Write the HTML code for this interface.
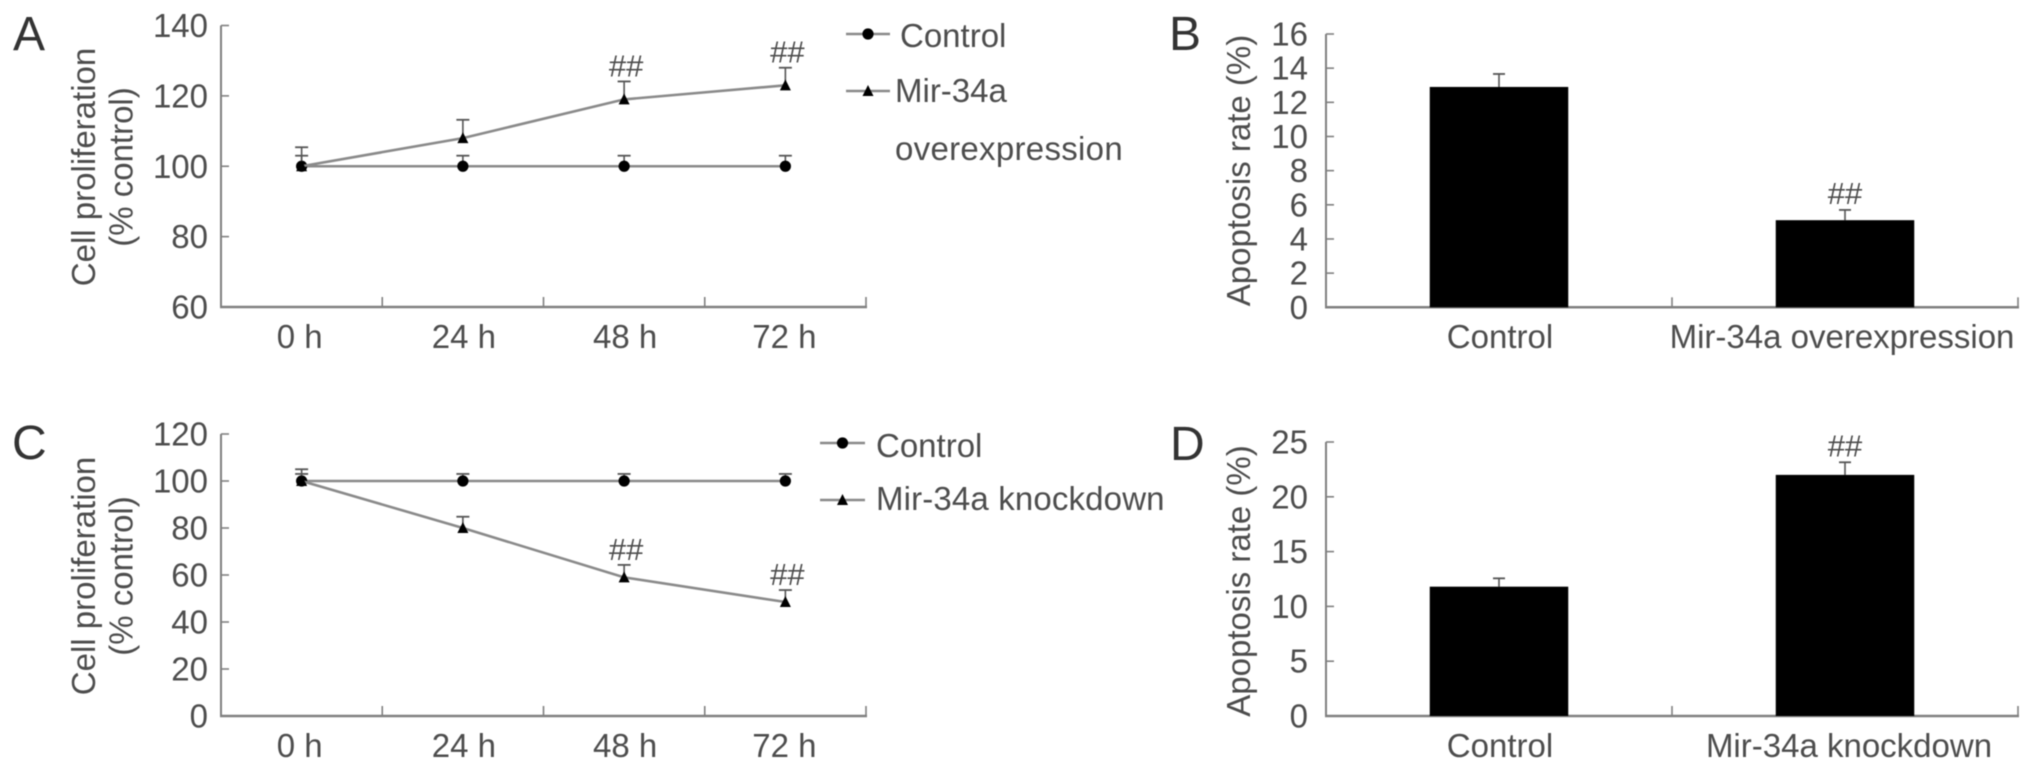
<!DOCTYPE html>
<html lang="en">
<head>
<meta charset="utf-8">
<title>Cell proliferation and apoptosis rate charts</title>
<style>
  html, body { margin: 0; padding: 0; background: #fff; }
  body { width: 2032px; height: 770px; overflow: hidden; }
  svg { display: block; filter: blur(0.55px); }
  text { font-family: "Liberation Sans", sans-serif; fill: #4d4d4d; font-size: 33px; }
  .panel-letter { font-size: 48px; fill: #333; }
</style>
</head>
<body>
<svg id="figure" xmlns="http://www.w3.org/2000/svg" width="2032" height="770" viewBox="0 0 2032 770">
  <rect width="2032" height="770" fill="#fff"/>

  <g id="panel-a">
    <text class="panel-letter" x="13" y="50">A</text>
    <text transform="rotate(-90 95 167)" x="95" y="167" text-anchor="middle">Cell proliferation</text>
    <text transform="rotate(-90 132.5 167)" x="132.5" y="167" text-anchor="middle">(% control)</text>
    <text x="900" y="47">Control</text>
    <text x="895" y="102">Mir-34a</text>
    <text x="895" y="160" letter-spacing="0.3">overexpression</text>
  </g>

  <g id="panel-b">
    <text class="panel-letter" x="1169" y="50">B</text>
    <text transform="rotate(-90 1250 170.5)" x="1250" y="170.5" text-anchor="middle">Apoptosis rate (%)</text>
  </g>

  <g id="panel-c">
    <text class="panel-letter" x="12" y="459">C</text>
    <text transform="rotate(-90 95 576)" x="95" y="576" text-anchor="middle">Cell proliferation</text>
    <text transform="rotate(-90 132.5 576)" x="132.5" y="576" text-anchor="middle">(% control)</text>
    <text x="876" y="457">Control</text>
    <text x="876" y="510" letter-spacing="0.15">Mir-34a knockdown</text>
  </g>

  <g id="panel-d">
    <text class="panel-letter" x="1170" y="460">D</text>
    <text transform="rotate(-90 1250 581)" x="1250" y="581" text-anchor="middle">Apoptosis rate (%)</text>
  </g>
</svg>

<script>
// ---- Data ----
const timeLabels = ['0 h', '24 h', '48 h', '72 h'];

const panelATicks = [60, 80, 100, 120, 140];
const panelAControl = [100, 100, 100, 100];
const panelAControlErr = [3, 3, 3, 3];
const panelAMir = [100, 108, 119, 123];
const panelAMirErr = [5.4, 5.2, 5.1, 5];
const panelASignificance = ['', '', '##', '##'];

const panelCTicks = [0, 20, 40, 60, 80, 100, 120];
const panelCControl = [100, 100, 100, 100];
const panelCControlErr = [3, 3, 3, 3];
const panelCMir = [100, 80, 59, 48.5];
const panelCMirErr = [5, 4.8, 5.3, 5.1];
const panelCSignificance = ['', '', '##', '##'];

const panelBTicks = [0, 2, 4, 6, 8, 10, 12, 14, 16];
const panelBCategories = ['Control', 'Mir-34a overexpression'];
const panelBValues = [12.9, 5.1];
const panelBErr = [0.76, 0.6];
const panelBSignificance = ['', '##'];

const panelDTicks = [0, 5, 10, 15, 20, 25];
const panelDCategories = ['Control', 'Mir-34a knockdown'];
const panelDValues = [11.8, 22];
const panelDErr = [0.76, 1.15];
const panelDSignificance = ['', '##'];

// ---- Helpers ----
const SVG_NS = 'http://www.w3.org/2000/svg';
const AXIS_COLOR = '#808080';
const LINE_COLOR = '#8a8a8a';
const ERR_COLOR = '#555';

function linearScale(domainMin, domainMax, pixelBottom, pixelTop) {
  return function (v) {
    return pixelBottom - (v - domainMin) / (domainMax - domainMin) * (pixelBottom - pixelTop);
  };
}
function bandScale(count, left, right) {
  const step = (right - left) / count;
  return function (i) { return left + (i + 0.5) * step; };
}
function make(tag, parent) {
  const el = document.createElementNS(SVG_NS, tag);
  parent.appendChild(el);
  return el;
}
function setAll(el, attrs) {
  Object.keys(attrs).forEach(function (k) { el.setAttribute(k, attrs[k]); });
  return el;
}

function drawAxes(root, prefix, ticks, yScale, left, right, bottom, xCount, labelRight) {
  const yAxis = make('line', root);
  setAll(yAxis, { x1: left, x2: left, y1: yScale(ticks[ticks.length - 1]), y2: bottom, stroke: AXIS_COLOR, 'stroke-width': 2 });
  
  

  const xAxis = make('line', root);
  setAll(xAxis, { x1: left - 1, x2: right + 1, y1: bottom, y2: bottom, stroke: AXIS_COLOR, 'stroke-width': 2.5 });
  
  

  ticks.forEach(function (t) {
    const y = yScale(t);
    const mark = make('line', root);
    setAll(mark, { x1: left, x2: left + 8, y1: y, y2: y, stroke: AXIS_COLOR, 'stroke-width': 1.6 });
    
    

    const label = make('text', root);
    setAll(label, { x: labelRight, y: y + 11.5, 'text-anchor': 'end' });
    
    
    label.textContent = String(t);
  });

  const step = (right - left) / xCount;
  for (let k = 1; k <= xCount; k++) {
    const x = left + k * step;
    const mark = make('line', root);
    setAll(mark, { x1: x, x2: x, y1: bottom - 10, y2: bottom, stroke: AXIS_COLOR, 'stroke-width': 1.6 });
    
    
  }
}

function drawErrorBar(root, name, x, yFrom, yTo, capWidth) {
  const stem = make('line', root);
  setAll(stem, { x1: x, x2: x, y1: yFrom, y2: yTo, stroke: ERR_COLOR, 'stroke-width': 1.6 });
  
  

  const cap = make('line', root);
  setAll(cap, { x1: x - capWidth / 2, x2: x + capWidth / 2, y1: yTo, y2: yTo, stroke: ERR_COLOR, 'stroke-width': 1.8 });
  
  
}

function drawCircle(root, name, x, y) {
  const c = make('circle', root);
  setAll(c, { cx: x, cy: y, r: 5.6, fill: '#000' });
  
  
}
function drawTriangle(root, name, x, y) {
  const p = make('polygon', root);
  p.setAttribute('points', (x - 5.5) + ',' + (y + 5) + ' ' + (x + 5.5) + ',' + (y + 5) + ' ' + x + ',' + (y - 6));
  p.setAttribute('fill', '#000');
  
  
}

function drawSeries(root, name, values, errs, xScale, yScale, marker) {
  const path = make('polyline', root);
  const pts = values.map(function (v, i) { return xScale(i) + ',' + yScale(v); }).join(' ');
  setAll(path, { points: pts, fill: 'none', stroke: LINE_COLOR, 'stroke-width': 2.6 });
  
  

  values.forEach(function (v, i) {
    drawErrorBar(root, name + '-error-bar', xScale(i), yScale(v), yScale(v + errs[i]), 13);
  });
  values.forEach(function (v, i) {
    marker(root, name + '-point', xScale(i), yScale(v));
  });
}

function drawSignificance(root, name, x, y) {
  const t = make('text', root);
  setAll(t, { x: x, y: y, 'text-anchor': 'middle' });
  t.style.fontSize = '31px';
  
  
  t.textContent = '##';
}

function drawCategoryLabel(root, name, x, y, text) {
  const t = make('text', root);
  setAll(t, { x: x, y: y, 'text-anchor': 'middle' });
  
  
  t.textContent = text;
}

function drawLegendKey(root, prefix, x1, x2, y, marker) {
  const l = make('line', root);
  setAll(l, { x1: x1, x2: x2, y1: y, y2: y, stroke: LINE_COLOR, 'stroke-width': 2.4 });
  
  
  marker(root, prefix + '-key-marker', (x1 + x2) / 2, y);
}

function drawLinePanel(id, ticks, top, bottom, control, controlErr, mir, mirErr, significance, labelBaseline) {
  const root = document.getElementById(id);
  const left = 221, right = 866;
  const yScale = linearScale(ticks[0], ticks[ticks.length - 1], bottom, top);
  const xScale = bandScale(timeLabels.length, left, right);
  drawAxes(root, id, ticks, yScale, left, right, bottom, timeLabels.length, 208);
  drawSeries(root, id + '-control', control, controlErr, xScale, yScale, drawCircle);
  drawSeries(root, id + '-mir', mir, mirErr, xScale, yScale, drawTriangle);
  timeLabels.forEach(function (lab, i) {
    drawCategoryLabel(root, id + '-x-tick-label', xScale(i) + (i === 0 ? -2 : i === 3 ? -1 : 1), labelBaseline, lab);
  });
  significance.forEach(function (s, i) {
    if (s) {
      drawSignificance(root, id + '-significance', xScale(i) + 2, yScale(mir[i] + mirErr[i]) - 5);
    }
  });
}

function drawBarPanel(id, ticks, top, bottom, categories, values, errs, significance, labelBaseline, labelShift) {
  const root = document.getElementById(id);
  const left = 1326, right = 2018;
  const yScale = linearScale(ticks[0], ticks[ticks.length - 1], bottom, top);
  const xScale = bandScale(categories.length, left, right);
  const barWidth = 138.5;
  drawAxes(root, id, ticks, yScale, left, right, bottom, categories.length, 1308);
  values.forEach(function (v, i) {
    drawErrorBar(root, id + '-error-bar', xScale(i), yScale(v), yScale(v + errs[i]), 12);
    const bar = make('rect', root);
    setAll(bar, { x: xScale(i) - barWidth / 2, y: yScale(v), width: barWidth, height: bottom - yScale(v), fill: '#000' });
    
    
    drawCategoryLabel(root, id + '-x-tick-label', xScale(i) + (i === 1 ? labelShift : 1), labelBaseline, categories[i]);
    if (significance[i]) {
      drawSignificance(root, id + '-significance', xScale(i), yScale(v + errs[i]) - 6);
    }
  });
}

// ---- Render ----
drawLinePanel('panel-a', panelATicks, 25.5, 307, panelAControl, panelAControlErr, panelAMir, panelAMirErr, panelASignificance, 348);
drawLinePanel('panel-c', panelCTicks, 434, 716, panelCControl, panelCControlErr, panelCMir, panelCMirErr, panelCSignificance, 757);
drawBarPanel('panel-b', panelBTicks, 34, 307.3, panelBCategories, panelBValues, panelBErr, panelBSignificance, 348, -3);
drawBarPanel('panel-d', panelDTicks, 442, 716, panelDCategories, panelDValues, panelDErr, panelDSignificance, 757, 4);

const panelA = document.getElementById('panel-a');
const panelC = document.getElementById('panel-c');
drawLegendKey(panelA, 'panel-a-legend-control', 846, 890, 34, drawCircle);
drawLegendKey(panelA, 'panel-a-legend-mir', 846, 890, 91, drawTriangle);
drawLegendKey(panelC, 'panel-c-legend-control', 820, 865, 443, drawCircle);
drawLegendKey(panelC, 'panel-c-legend-mir', 820, 865, 500, drawTriangle);
</script>
</body>
</html>
